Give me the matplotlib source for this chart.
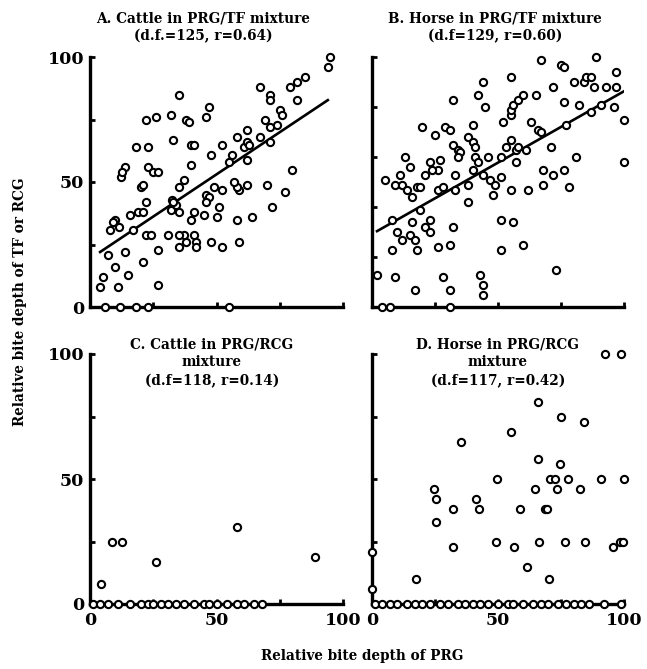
import numpy as np
import matplotlib
matplotlib.use("Agg")
import matplotlib.pyplot as plt

# values (relative bite depth, %)
a_x = [35, 22, 26, 32, 38, 39, 46, 47, 18, 23, 33, 40, 41, 40, 48, 52, 58, 56, 55, 61,
       62, 63, 62, 62, 67, 71, 71, 69, 71, 74, 75, 76, 67, 71, 79, 82, 85, 82, 80, 77,
       72, 70, 62, 59, 58, 57, 49, 52, 46, 47, 46, 51, 50, 58, 64, 45, 41, 40, 59, 52,
       48, 41, 42, 42, 38, 37, 35, 35, 31, 27, 22, 24, 21, 17, 16, 19, 21, 22, 20, 21,
       23, 25, 27, 14, 12.4, 12.8, 10, 9, 11.5, 8, 7, 10, 14, 15, 5, 4, 11, 27, 32, 32.5,
       34, 35, 37, 35, 33, 95, 94,
       6, 12, 18, 23, 55]
a_y = [85, 75, 76, 77, 75, 74, 76, 80, 64, 64, 67, 65, 65, 57, 61, 65, 68, 61, 58, 64,
       66, 65, 71, 59, 88, 85, 83, 75, 72, 73, 79, 77, 68, 66, 88, 90, 92, 83, 55, 46,
       40, 49, 49, 47, 48, 50, 48, 47, 45, 44, 42, 40, 36, 35, 36, 37, 38, 35, 26, 24,
       26, 29, 26, 24, 26, 29, 29, 24, 29, 23, 29, 29, 18, 31, 37, 38, 38, 42, 48, 49,
       56, 54, 54, 56, 52, 54, 35, 34, 32, 31, 21, 16, 22, 13, 12, 8, 8, 9, 39, 43,
       41, 48, 51, 38, 42, 100, 96,
       0, 0, 0, 0, 0]

b_x = [67, 75, 76, 89, 97, 44, 55, 42, 45, 32, 20, 25, 29, 31, 40, 38, 40, 41, 32, 34,
       35, 34, 41, 13, 15, 11, 5, 9, 12, 14, 16, 18, 19, 21, 23, 27, 26, 24, 26, 28,
       33, 33, 38, 38, 40, 42, 44, 46, 47, 49, 48, 51, 51, 53, 55, 52, 55, 55, 56, 58,
       60, 65, 57, 58, 57, 61, 55, 62, 63, 66, 67, 68, 68, 71, 72, 76, 78, 81, 77, 76,
       82, 72, 80, 84, 85, 87, 88, 93, 97, 87, 91, 96, 100, 100, 8, 10, 12, 15, 16, 17,
       18, 19, 21, 23, 23, 26, 31, 32, 8, 2, 9, 17, 28, 31, 43, 44, 44, 51, 56, 60,
       51, 73,
       4, 7, 31]
b_y = [99, 97, 96, 100, 94, 90, 92, 85, 80, 83, 72, 69, 72, 71, 73, 68, 66, 64, 65, 63,
       62, 60, 60, 60, 56, 53, 51, 49, 49, 47, 44, 48, 48, 53, 58, 59, 55, 55, 47, 48,
       47, 53, 49, 42, 55, 58, 53, 60, 51, 49, 45, 52, 60, 64, 67, 74, 77, 79, 81, 83,
       85, 85, 63, 64, 58, 63, 47, 47, 74, 71, 70, 55, 49, 64, 53, 55, 48, 60, 73, 82,
       81, 88, 90, 90, 92, 92, 88, 88, 88, 78, 81, 80, 75, 58, 35, 30, 27, 29, 34, 27,
       23, 39, 32, 35, 30, 24, 25, 32, 23, 13, 12, 7, 12, 7, 13, 9, 5, 35, 34, 25,
       23, 15,
       0, 0, 0]

c_x = [4.5, 8.5, 12.6, 26, 58, 89,
       1, 4, 7, 11, 16, 20, 23, 25, 28, 31, 34, 37, 41, 45, 47, 50, 54, 58, 61, 65, 68]
c_y = [8, 25, 25, 17, 31, 19,
       0, 0, 0, 0, 0, 0, 0, 0, 0, 0, 0, 0, 0, 0, 0, 0, 0, 0, 0, 0, 0]

d_x = [75, 84, 55, 35.5, 66, 74.5, 49.5, 70.5, 72.6, 77.7, 91, 100, 24.6, 25.4, 64.7,
       73.6, 82.6, 41.3, 32.1, 42.4, 58.6, 68.5, 69.6, 25.4, 32.1, 49.3, 56.3, 66.3,
       76.5, 84.6, 95.5, 98.5, 99.5, 61.4, 70.3, 17.3, 0, 0, 92.5, 99, 66,
       1, 4, 7, 10, 14, 17, 20, 23, 27, 30, 34, 37, 40, 43, 46, 50, 54, 56, 60, 64,
       67, 70, 74, 77, 80, 83, 86, 92, 99]
d_y = [75, 73, 69, 65, 58, 56, 50, 50, 50, 50, 50, 50, 46, 42, 46,
       46, 46, 42, 38, 38, 38, 38, 38, 33, 23, 25, 23, 25,
       25, 25, 23, 25, 25, 15, 10, 10, 21, 6, 100, 100, 81,
       0, 0, 0, 0, 0, 0, 0, 0, 0, 0, 0, 0, 0, 0, 0, 0, 0, 0, 0, 0,
       0, 0, 0, 0, 0, 0, 0, 0, 0]

# fitted lines drawn in panels A and B: (x start, x end, slope, intercept)
fit_a = (4, 94, 0.675, 19.3)
fit_b = (2, 100, 0.571, 29.2)

titles = ["A. Cattle in PRG/TF mixture\n(d.f.=125, r=0.64)",
          "B. Horse in PRG/TF mixture\n(d.f=129, r=0.60)",
          "C. Cattle in PRG/RCG\nmixture\n(d.f=118, r=0.14)",
          "D. Horse in PRG/RCG\nmixture\n(d.f=117, r=0.42)"]

plt.rcParams['font.family'] = 'DejaVu Serif'
plt.rcParams['font.weight'] = 'bold'

W, H = 647, 669
fig = plt.figure(figsize=(W / 100, H / 100), dpi=100)


def box(x0, x1, ytop, ybot):
    return [x0 / W, 1 - ybot / H, (x1 - x0) / W, (ybot - ytop) / H]


axA = fig.add_axes(box(90, 343, 57, 307))
axB = fig.add_axes(box(372, 624, 57, 307))
axC = fig.add_axes(box(90, 343, 354, 604))
axD = fig.add_axes(box(372, 624, 354, 604))

panels = [(axA, a_x, a_y, fit_a), (axB, b_x, b_y, fit_b),
          (axC, c_x, c_y, None), (axD, d_x, d_y, None)]

for ax, xs, ys, fit in panels:
    ax.plot(xs, ys, 'o', ms=5.2, mfc='white', mec='black', mew=1.5, clip_on=False, zorder=3)
    if fit:
        xl = np.array(fit[:2])
        ax.plot(xl, fit[3] + fit[2] * xl, color='black', lw=1.9, zorder=2)
    ax.set_xlim(0, 100)
    ax.set_ylim(0, 100)
    for s in ['top', 'right']:
        ax.spines[s].set_visible(False)
    for s in ['left', 'bottom']:
        ax.spines[s].set_linewidth(2.4)
    ax.tick_params(direction='in', length=3.5, width=2, labelsize=12.5, pad=4)
    ax.set_xticks([0, 25, 50, 75, 100])
    ax.set_xticklabels([])
    ax.set_yticklabels([])

for ax in (axA, axC, axD):
    ax.set_yticks([0, 25, 50, 75, 100])
axB.set_yticks([0, 20, 40, 60, 80, 100])
for ax in (axA, axC):
    ax.set_yticklabels(['0', '', '50', '', '100'])
for ax in (axC, axD):
    ax.set_xticklabels(['0', '', '50', '', '100'])
    ax.tick_params(axis='x', pad=6)

title_pos = [(203, 11), (495, 11), (212, 337), (498, 337)]
for (tx, ty), t in zip(title_pos, titles):
    fig.text(tx / W, 1 - ty / H, t, ha='center', va='top', fontsize=9.8,
             linespacing=1.4, multialignment='center')

fig.text(20 / W, 1 - 302 / H, 'Relative bite depth of TF or RCG', rotation=90,
         ha='center', va='center', fontsize=9.8)
fig.text(362 / W, 1 - 656 / H, 'Relative bite depth of PRG', ha='center', va='center',
         fontsize=9.8)

fig.savefig('out.png', dpi=100)
